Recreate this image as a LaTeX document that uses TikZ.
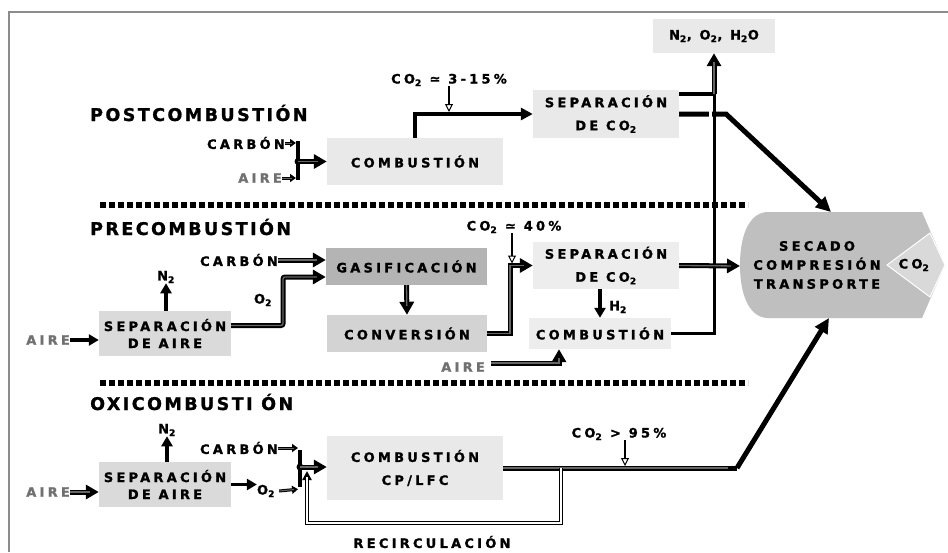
\documentclass[tikz,border=0pt]{standalone}
\usepackage{fontspec}
\setmainfont{DejaVu Sans}
\newfontfamily\widesans[LetterSpace=25, BoldFeatures={FakeBold=1.2}]{DejaVu Sans}
\newfontfamily\titlesans[LetterSpace=14, BoldFeatures={FakeBold=1.2}]{DejaVu Sans}
\usetikzlibrary{arrows.meta,calc}
\definecolor{boxL}{HTML}{E9E9E9}
\definecolor{boxP}{HTML}{EDEDED}
\definecolor{sepA}{HTML}{DADADA}
\definecolor{gasC}{HTML}{B4B4B4}
\definecolor{convC}{HTML}{D3D3D3}
\definecolor{secC}{HTML}{BFBFBF}
\definecolor{co2C}{HTML}{D9D9D9}
\definecolor{frameC}{HTML}{8C8C8C}
\definecolor{aireC}{HTML}{707070}
\definecolor{innerC}{HTML}{666666}
\begin{document}
\begin{tikzpicture}[x=1pt,y=-1pt,
  lab/.style={font=\widesans\bfseries\fontsize{13}{19}\selectfont, inner sep=0pt, align=center},
  airelab/.style={lab, text=aireC},
  lines23/.style={font=\widesans\bfseries\fontsize{13}{23}\selectfont},
  lines17/.style={font=\widesans\bfseries\fontsize{13}{17}\selectfont},
  heading/.style={font=\titlesans\bfseries\fontsize{17.5}{20}\selectfont, inner sep=0pt, anchor=base west},
  box/.style={lab},
  thk/.style={line width=4pt},
  thkarr/.style={thk, -{Triangle[length=12pt,width=12pt]}},
  bigarr/.style={line width=5pt, -{Triangle[length=15pt,width=14pt]}},
  dbl/.style={line width=5pt, postaction={draw=innerC, line width=1.3pt, -, shorten >=9pt}},
  dblarr/.style={dbl, -{Triangle[length=13pt,width=14pt]}},
  wdblarr/.style={line width=3.6pt, -{Triangle[length=9pt,width=9pt]},
    postaction={draw=white, line width=1.2pt, -, shorten >=6pt}},
  tinydbl/.style={line width=3pt, -{Triangle[length=6pt,width=8pt]}, shorten >=2pt,
    postaction={draw=innerC, line width=1pt, -, shorten >=6pt}},
  blkarr/.style={line width=3.2pt, -{Triangle[length=10pt,width=11pt]}},
  annot/.style={line width=1.4pt, shorten >=2pt,
    -{Triangle[open, fill=white, length=8pt, width=8pt, line width=1pt]}},
  vline/.style={line width=3pt},
  separator/.style={line width=6pt, dash pattern=on 6pt off 3pt},
  frame/.style={draw=frameC, line width=2.5pt}
]
\useasboundingbox (0,0) rectangle (948,552);
\fill[white] (0,0) rectangle (948,552);
\draw[frame] (9,552) -- (9,12) -- (948,12);

% section separators
\draw[separator] (100,205) -- (748,205);
\draw[separator] (100,383) -- (748,383);

% section headings
\node[heading] (posttitle) at (90,121) {POSTCOMBUSTIÓN};
\node[heading] (pretitle) at (90,235) {PRECOMBUSTIÓN};
\node[heading] (oxititle) at (90,410) {OXICOMBUSTI ÓN};

% drying / compression / transport block
\fill[secC] (768,212) -- (922,212) -- (945,265) -- (922,318) -- (768,318)
  .. controls (752,318) and (740,300) .. (740,265)
  .. controls (740,230) and (752,212) .. (768,212) -- cycle;
\filldraw[fill=co2C, draw=white, line width=1pt] (887,265) -- (930,233) -- (945,265) -- (930,297) -- cycle;
\node[lab] (dry) at (817,265) {SECADO\\COMPRESIÓN\\TRANSPORTE};
\node[lab] (co2out) at (914,265) {CO\textsubscript{2}};
\coordinate (sectop) at (831,212);
\coordinate (secleft) at (740,266);
\coordinate (secbot) at (829,318);

% ---------- postcombustion ----------
\node[box, fill=boxL, minimum width=176pt, minimum height=47pt] (postcomb) at (415,161.5) {COMBUSTIÓN};
\node[box, lines23, fill=boxL, minimum width=146pt, minimum height=48pt] (postsep) at (606,114) {SEPARACIÓN\\DE CO\textsubscript{2}};
\node[box, fill=boxL, minimum width=122pt, minimum height=34pt] (exhaust) at (714,36) {N\textsubscript{2}, O\textsubscript{2}, H\textsubscript{2}O};
\node[lab, anchor=east] (postcarbon) at (285,143) {CARBÓN};
\node[airelab, anchor=east] (postaire) at (282,178) {AIRE};
\node[lab] (co2a) at (449,80) {CO\textsubscript{2} ≃ 3-15\%};

\coordinate (pjt) at (298,141);
\coordinate (pjb) at (298,180);
\coordinate (pjc) at (298,161.5);
\draw[thk] (pjt) -- (pjb);
\draw[tinydbl] (postcarbon.east) -- (pjt |- postcarbon.east);
\draw[tinydbl] (postaire.east) -- (pjb |- postaire.east);
\fill (pjc) circle (3.5pt);
\draw[dblarr] (pjc) -- (postcomb.west);
\draw[thkarr] (postcomb.north) |- (postsep.west);
\draw[annot] (co2a.south) -- (co2a.south |- postsep.west);

\path ([yshift=20pt]postsep.east) coordinate (pse);
\coordinate (ej) at (pse -| exhaust.south);
\coordinate (cross) at (ej |- postsep.east);
\coordinate (diag) at (726,114);
\draw[bigarr] (postsep.east) -- (diag) -- (sectop);
\draw[white, line width=3pt] ([xshift=-4pt,yshift=5pt]cross) -- ([xshift=-4pt,yshift=-5pt]cross);

% ---------- precombustion ----------
\node[box, fill=gasC, minimum width=161pt, minimum height=37pt] (gasif) at (406.5,266.5) {GASIFICACIÓN};
\node[box, fill=convC, minimum width=160pt, minimum height=37pt] (conv) at (407,333.5) {CONVERSIÓN};
\node[box, lines23, fill=boxP, minimum width=146pt, minimum height=47pt] (presep) at (606,265.5) {SEPARACIÓN\\DE CO\textsubscript{2}};
\node[box, fill=boxP, minimum width=142pt, minimum height=31pt] (precomb) at (600,333.5) {COMBUSTIÓN};
\node[box, lines17, fill=sepA, minimum width=132pt, minimum height=45pt] (presepaire) at (165,333.5) {SEPARACIÓN\\DE AIRE};
\node[lab, anchor=east] (precarbon) at (278,260) {CARBÓN};
\node[airelab, anchor=east] (preaire) at (70,340) {AIRE};
\node[airelab, anchor=east] (preaire2) at (485,367) {AIRE};
\node[lab] (n2b) at (166,277) {N\textsubscript{2}};
\node[lab] (o2b) at (263,300) {O\textsubscript{2}};
\node[lab] (h2) at (618,307) {H\textsubscript{2}};
\node[lab] (co2b) at (514,227) {CO\textsubscript{2} ≃ 40\%};

% exhaust riser and shared vertical return
\draw[vline] (precomb.east) -| (ej);
\draw[thk] (pse) -- (ej);
\draw[dblarr] (ej) -- (exhaust.south);

\draw[blkarr] (preaire.east) -- (preaire.east -| presepaire.west);
\draw[blkarr] (n2b.south |- presepaire.north) -- (n2b.south);
\draw[dblarr] (precarbon.east) -- (precarbon.east -| gasif.west);
\path ([yshift=8pt]presepaire.east) coordinate (sae);
\coordinate (o2k) at (283,277);
\draw[dblarr, rounded corners=2pt] (sae) -| (o2k) -- (o2k -| gasif.west);
\draw[dblarr] (gasif.south) -- (conv.north);
\coordinate (cj) at (510,265.5);
\draw[dblarr] (conv.east) -| (cj) -- (presep.west);
\draw[annot] ([xshift=-2pt]co2b.south) -- ([xshift=-2pt]co2b.south |- presep.west);
\draw[blkarr] (presep.south -| precomb.north) -- (precomb.north);
\draw[dblarr] (presep.east) -- (secleft);
\coordinate (ak) at ([xshift=-41pt]precomb.south);
\draw[dblarr] ([yshift=4pt,xshift=6pt]preaire2.east) -| (ak);

% ---------- oxycombustion ----------
\node[box, lines17, fill=sepA, minimum width=132pt, minimum height=45pt] (oxisepaire) at (165,484.5) {SEPARACIÓN\\DE AIRE};
\node[box, lines23, fill=boxL, minimum width=176pt, minimum height=64pt] (oxicomb) at (415,468) {COMBUSTIÓN\\CP/LFC};
\node[lab, anchor=east] (oxicarbon) at (278,448) {CARBÓN};
\node[airelab, anchor=east] (oxiaire) at (70,492) {AIRE};
\node[lab] (n2c) at (167,430) {N\textsubscript{2}};
\node[lab] (o2c) at (266,491) {O\textsubscript{2}};
\node[lab] (co2c) at (619,434) {CO\textsubscript{2} > 95\%};
\node[lab] (recirc) at (432,542) {RECIRCULACIÓN};

\draw[blkarr] (n2c.south |- oxisepaire.north) -- (n2c.south);
\draw[dblarr] (oxiaire.east) -- (oxiaire.east -| oxisepaire.west);
\draw[blkarr] (oxisepaire.east) -- (oxisepaire.east -| o2c.west);
\coordinate (ojt) at (300,450);
\coordinate (ojb) at (300,487);
\coordinate (ojc) at (300,467);
\draw[thk] (ojt) -- (ojb);
\draw[tinydbl] (oxicarbon.east) -- (ojt |- oxicarbon.east);
\draw[tinydbl] ([xshift=4pt]o2c.east) -- ([yshift=-2pt]ojb);
\fill (ojc) circle (3.5pt);
\draw[dblarr] (ojc) -- (ojc -| oxicomb.west);
\coordinate (obend) at (737,468);
\draw[dbl] (oxicomb.east) -- (obend);
\draw[bigarr] (obend) -- (secbot);
\coordinate (rj) at (561,468);
\coordinate (rb) at (307,523);
\coordinate (rt) at (307,471);
\draw[wdblarr] (rj) |- (rb) -- (rt);
\draw[annot] ([xshift=6pt]co2c.south) -- ([xshift=6pt]co2c.south |- oxicomb.east);
\end{tikzpicture}
\end{document}
